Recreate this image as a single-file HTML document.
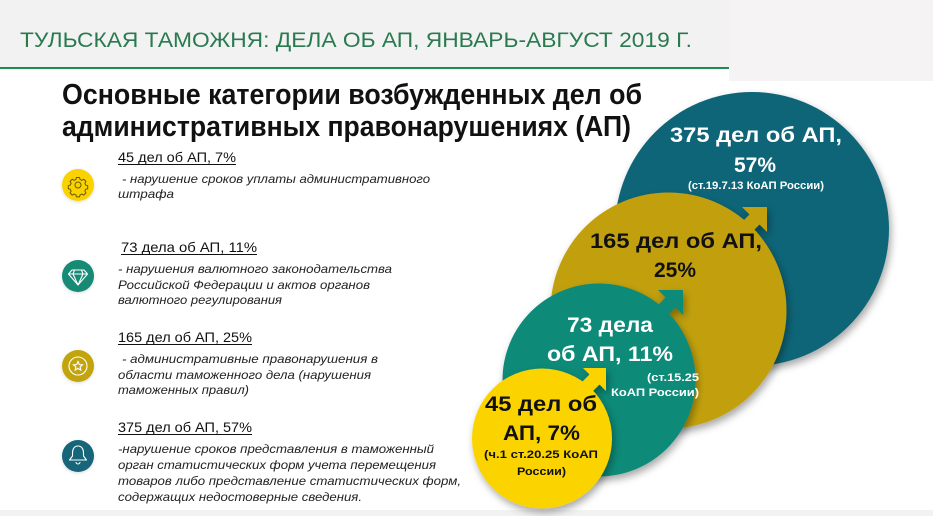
<!DOCTYPE html>
<html><head><meta charset="utf-8">
<style>
html,body{margin:0;padding:0;background:#fff;}
body{width:933px;height:516px;overflow:hidden;}
svg{display:block;}
text{font-family:"Liberation Sans","DejaVu Sans",sans-serif;}
</style></head>
<body>
<svg width="933" height="516" viewBox="0 0 933 516" xmlns="http://www.w3.org/2000/svg">
<defs>
<filter id="sh" x="-20%" y="-20%" width="140%" height="140%">
<feDropShadow dx="2" dy="4" stdDeviation="4" flood-color="#000" flood-opacity="0.35"/>
</filter>
<filter id="sh2" x="-30%" y="-30%" width="160%" height="160%">
<feDropShadow dx="0" dy="1" stdDeviation="1.5" flood-color="#000" flood-opacity="0.15"/>
</filter>
</defs>
<rect width="933" height="516" fill="#fff"/>
<!-- header -->
<rect x="0" y="0" width="729" height="67" fill="#f2f2f2"/>
<rect x="729" y="0" width="204" height="81" fill="#f5f3f3"/>
<rect x="0" y="67" width="729" height="2" fill="#1f8a52"/>
<text x="20" y="47" font-size="21" fill="#2a7a50" textLength="672" lengthAdjust="spacingAndGlyphs">ТУЛЬСКАЯ ТАМОЖНЯ: ДЕЛА ОБ АП, ЯНВАРЬ-АВГУСТ 2019 Г.</text>
<!-- bottom strip -->
<rect x="0" y="510" width="933" height="6" fill="#f2f2f2"/>
<!-- subtitle -->
<text x="62" y="104" font-size="29" font-weight="bold" fill="#111" textLength="580" lengthAdjust="spacingAndGlyphs">Основные категории возбужденных дел об</text>
<text x="62" y="136" font-size="29" font-weight="bold" fill="#111" textLength="569" lengthAdjust="spacingAndGlyphs">административных правонарушениях (АП)</text>

<!-- left list icons -->
<g filter="url(#sh2)">
<circle cx="78" cy="185" r="16" fill="#f9d200"/>
<circle cx="78" cy="276" r="16" fill="#138a74"/>
<circle cx="78" cy="366" r="16" fill="#c2a40f"/>
<circle cx="78" cy="456" r="16" fill="#126579"/>
</g>
<!-- gear -->
<g fill="none" stroke="#6b5a00" stroke-width="1">
<circle cx="78" cy="185" r="3"/>
<path d="M76.5,177.5 h3 l0.6,2 l1.8,0.8 l1.9,-1 l2.1,2.1 l-1,1.9 l0.8,1.8 l2,0.6 v3 l-2,0.6 l-0.8,1.8 l1,1.9 l-2.1,2.1 l-1.9,-1 l-1.8,0.8 l-0.6,2 h-3 l-0.6,-2 l-1.8,-0.8 l-1.9,1 l-2.1,-2.1 l1,-1.9 l-0.8,-1.8 l-2,-0.6 v-3 l2,-0.6 l0.8,-1.8 l-1,-1.9 l2.1,-2.1 l1.9,1 l1.8,-0.8 z"/>
</g>
<!-- diamond -->
<g fill="none" stroke="#fff" stroke-width="1.1" stroke-linejoin="round">
<path d="M72,270 h12 l3.5,4 l-9.5,11 l-9.5,-11 z"/>
<path d="M68.5,274 h19 M74.5,270 l-1.5,4 l5,11 l5,-11 l-1.5,-4"/>
</g>
<!-- star in circle -->
<g fill="none" stroke="#fff" stroke-width="1.1">
<circle cx="78" cy="366" r="9"/>
<path d="M78,361.5 l1.3,3 l3.2,0.3 l-2.4,2.1 l0.7,3.2 l-2.8,-1.7 l-2.8,1.7 l0.7,-3.2 l-2.4,-2.1 l3.2,-0.3 z"/>
</g>
<!-- bell -->
<g fill="none" stroke="#fff" stroke-width="1.1" stroke-linejoin="round">
<path d="M78,446 c-4,0 -5.5,3.5 -5.5,7 v3 l-3,4 h17 l-3,-4 v-3 c0,-3.5 -1.5,-7 -5.5,-7 z"/>
<path d="M76,462 a2,2 0 0 0 4,0"/>
</g>

<!-- list text -->
<g fill="#111">
<text x="118" y="162" font-size="14" textLength="118" lengthAdjust="spacingAndGlyphs">45 дел об АП, 7%</text>
<rect x="118" y="164" width="118" height="1" fill="#111"/>
<g font-size="12" font-style="italic" fill="#222">
<text x="122" y="183" textLength="308" lengthAdjust="spacingAndGlyphs">- нарушение  сроков  уплаты  административного</text>
<text x="118" y="198" textLength="56" lengthAdjust="spacingAndGlyphs">штрафа</text>
</g>

<text x="121" y="252" font-size="14" textLength="136" lengthAdjust="spacingAndGlyphs">73 дела об АП, 11%</text>
<rect x="121" y="254" width="136" height="1" fill="#111"/>
<g font-size="12" font-style="italic" fill="#222">
<text x="118" y="273" textLength="274" lengthAdjust="spacingAndGlyphs">- нарушения  валютного  законодательства</text>
<text x="118" y="289" textLength="252" lengthAdjust="spacingAndGlyphs">Российской Федерации  и актов органов</text>
<text x="118" y="304" textLength="164" lengthAdjust="spacingAndGlyphs">валютного  регулирования</text>
</g>

<text x="118" y="342" font-size="14" textLength="134" lengthAdjust="spacingAndGlyphs">165 дел об АП, 25%</text>
<rect x="118" y="344" width="134" height="1" fill="#111"/>
<g font-size="12" font-style="italic" fill="#222">
<text x="122" y="363" textLength="256" lengthAdjust="spacingAndGlyphs">- административные  правонарушения  в</text>
<text x="118" y="379" textLength="253" lengthAdjust="spacingAndGlyphs">области  таможенного  дела  (нарушения</text>
<text x="118" y="394" textLength="131" lengthAdjust="spacingAndGlyphs">таможенных  правил)</text>
</g>

<text x="118" y="432" font-size="14" textLength="134" lengthAdjust="spacingAndGlyphs">375 дел об АП, 57%</text>
<rect x="118" y="434" width="134" height="1" fill="#111"/>
<g font-size="12" font-style="italic" fill="#222">
<text x="118" y="453" textLength="316" lengthAdjust="spacingAndGlyphs">-нарушение  сроков представления  в таможенный</text>
<text x="118" y="469" textLength="318" lengthAdjust="spacingAndGlyphs">орган  статистических  форм  учета перемещения</text>
<text x="118" y="485" textLength="343" lengthAdjust="spacingAndGlyphs">товаров либо представление  статистических форм,</text>
<text x="118" y="501" textLength="244" lengthAdjust="spacingAndGlyphs">содержащих  недостоверные  сведения.</text>
</g>
</g>

<!-- circles -->
<g filter="url(#sh)">
<circle cx="752" cy="229" r="137" fill="#0f6577"/>
</g>
<g fill="#fff" font-weight="bold" text-anchor="middle">
<text x="756" y="142" font-size="21" textLength="172" lengthAdjust="spacingAndGlyphs">375 дел об АП,</text>
<text x="755" y="172" font-size="21">57%</text>
<text x="756" y="189" font-size="11" textLength="136" lengthAdjust="spacingAndGlyphs">(ст.19.7.13 КоАП России)</text>
</g>

<g filter="url(#sh)" fill="#c2a00e">
<circle cx="668.5" cy="310.5" r="118"/>
<polygon points="742,207 767,207 767,232 759.5,224.5 747.5,236.5 737.5,226.5 749.5,214.5"/>
</g>
<g fill="#111" font-weight="bold" text-anchor="middle">
<text x="676" y="248" font-size="21" textLength="172" lengthAdjust="spacingAndGlyphs">165 дел об АП,</text>
<text x="675" y="277" font-size="21">25%</text>
</g>

<g filter="url(#sh)" fill="#0f8a78">
<circle cx="599" cy="380" r="96.5"/>
<polygon points="658,290 683,290 683,315 675.5,307.5 663.5,319.5 653.5,309.5 665.5,297.5"/>
</g>
<g fill="#fff" font-weight="bold">
<text x="567" y="332" font-size="21" textLength="86" lengthAdjust="spacingAndGlyphs">73 дела</text>
<text x="547" y="361" font-size="21" textLength="126" lengthAdjust="spacingAndGlyphs">об АП, 11%</text>
<text x="647" y="381" font-size="11" textLength="52" lengthAdjust="spacingAndGlyphs">(ст.15.25</text>
<text x="611" y="396" font-size="11" textLength="88" lengthAdjust="spacingAndGlyphs">КоАП России)</text>
</g>

<g filter="url(#sh)" fill="#fbd400">
<circle cx="542" cy="438.5" r="70"/>
<polygon points="583,368 606,368 606,391 599.5,384.5 587.5,396.5 577.5,386.5 589.5,374.5"/>
</g>
<g fill="#111" font-weight="bold">
<text x="485" y="411" font-size="21" textLength="112" lengthAdjust="spacingAndGlyphs">45 дел об</text>
<text x="503" y="440" font-size="21" textLength="77" lengthAdjust="spacingAndGlyphs">АП, 7%</text>
<text x="484" y="458" font-size="11" textLength="114" lengthAdjust="spacingAndGlyphs">(ч.1 ст.20.25 КоАП</text>
<text x="517" y="475" font-size="11" textLength="49" lengthAdjust="spacingAndGlyphs">России)</text>
</g>
</svg>
</body></html>
